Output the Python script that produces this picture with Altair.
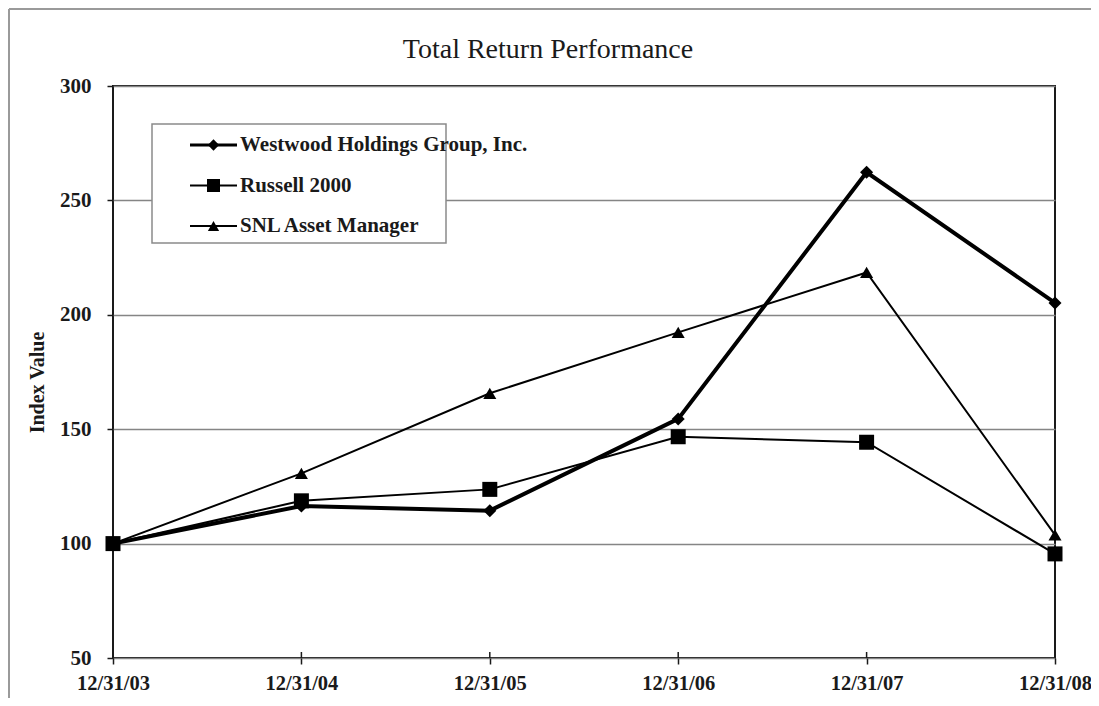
import altair as alt
import pandas as pd

dates = ["12/31/03", "12/31/04", "12/31/05", "12/31/06", "12/31/07", "12/31/08"]
series_names = ["Westwood Holdings Group, Inc.", "Russell 2000", "SNL Asset Manager"]
westwood = [100, 116.4, 114.4, 154.5, 262.3, 205.2]
russell = [100, 118.7, 123.7, 146.7, 144.3, 95.5]
snl = [100, 130.7, 165.7, 192.3, 218.5, 103.8]
y_ticks = [50, 100, 150, 200, 250, 300]
title_text = "Total Return Performance"
y_title = "Index Value"

rows = []
for name, vals in zip(series_names, [westwood, russell, snl]):
    for d, v in zip(dates, vals):
        rows.append({"date": d, "value": v, "series": name})
df = pd.DataFrame(rows)

FONT = "Liberation Serif"
INK = "#1a1a1a"
W, H = 942, 572

styles = {
    series_names[0]: dict(width=4, shape="diamond", size=170),
    series_names[1]: dict(width=2, shape="square", size=225),
    series_names[2]: dict(width=2, shape="triangle-up", size=170),
}

x_enc = alt.X(
    "date:N", sort=dates, scale=alt.Scale(type="point", padding=0),
    axis=alt.Axis(title=None, labelAngle=0, labelFont=FONT, labelFontWeight="bold",
                  labelFontSize=20.5, labelColor=INK, labelPadding=25,
                  labelBaseline="alphabetic", tickSize=6,
                  tickColor=INK, tickWidth=1.5, domain=False, grid=False),
)
y_enc = alt.Y(
    "value:Q", scale=alt.Scale(domain=[50, 300], nice=False, zero=False),
    axis=alt.Axis(values=y_ticks, title=y_title, titleFont=FONT, titleFontSize=20,
                  titleFontWeight="bold", titleColor=INK, titleX=-70, titleY=296,
                  titleBaseline="alphabetic", labelFont=FONT, labelFontWeight="bold",
                  labelFontSize=21, labelColor=INK, labelPadding=16, tickSize=6,
                  tickColor=INK, tickWidth=1.5, domain=False, grid=True,
                  gridColor="#858585", gridWidth=1.5),
)

layers = []
one = pd.DataFrame({"k": [0]})

# outer frame (left and top edges)
layers.append(alt.Chart(one).mark_rule(color="#9a9a9a", strokeWidth=2).encode(
    x=alt.value(-104), y=alt.value(-77), y2=alt.value(620)))
layers.append(alt.Chart(one).mark_rule(color="#9a9a9a", strokeWidth=2).encode(
    x=alt.value(-104), x2=alt.value(990), y=alt.value(-77)))

# series lines (carry the axes)
base_lines = []
for name in series_names:
    st = styles[name]
    base_lines.append(
        alt.Chart(df).transform_filter(alt.datum.series == name)
        .mark_line(color="black", strokeWidth=st["width"])
        .encode(x=x_enc, y=y_enc)
    )

# inward x ticks
tick_df = pd.DataFrame({"date": dates})
layers.append(alt.Chart(tick_df).mark_rule(color=INK, strokeWidth=1.5).encode(
    x=x_enc, y=alt.value(H), y2=alt.value(H - 6)))

# legend box
layers.append(alt.Chart(one).mark_rect(fill="white", stroke="#8a8a8a", strokeWidth=1.5).encode(
    x=alt.value(39), x2=alt.value(333), y=alt.value(38), y2=alt.value(157)))

layers.extend(base_lines)
for name in series_names:
    st = styles[name]
    layers.append(
        alt.Chart(df).transform_filter(alt.datum.series == name)
        .mark_point(filled=True, color="black", opacity=1, shape=st["shape"], size=st["size"])
        .encode(x=x_enc, y=y_enc)
    )

# legend entries
for i, name in enumerate(series_names):
    st = styles[name]
    ly = 59 + 40.5 * i
    ldf = pd.DataFrame({"series": [name]})
    layers.append(alt.Chart(ldf).mark_rule(color="black", strokeWidth=max(st["width"] - 1, 2)).encode(
        x=alt.value(77), x2=alt.value(124), y=alt.value(ly)))
    layers.append(alt.Chart(ldf).mark_point(filled=True, color="black", opacity=1,
                                            shape=st["shape"], size=st["size"] * 0.75).encode(
        x=alt.value(100.5), y=alt.value(ly)))
    layers.append(alt.Chart(ldf).mark_text(align="left", baseline="middle", font=FONT,
                                           fontWeight="bold", fontSize=21, color=INK).encode(
        text="series:N", x=alt.value(127), y=alt.value(ly)))

# title
layers.append(alt.Chart(pd.DataFrame({"t": [title_text]})).mark_text(
    align="center", baseline="alphabetic", font=FONT, fontSize=28, color=INK).encode(
    text="t:N", x=alt.value(435), y=alt.value(-28)))

chart = alt.layer(*layers).properties(
    width=W, height=H,
    background="white",
    autosize=alt.AutoSizeParams(type="none"),
    padding={"left": 105, "top": 78, "right": 36, "bottom": 40},
).configure_view(stroke=INK, strokeWidth=2).configure_scale(pointPadding=0)

chart.save("out.html", embed_options={"renderer": "svg", "actions": False})
